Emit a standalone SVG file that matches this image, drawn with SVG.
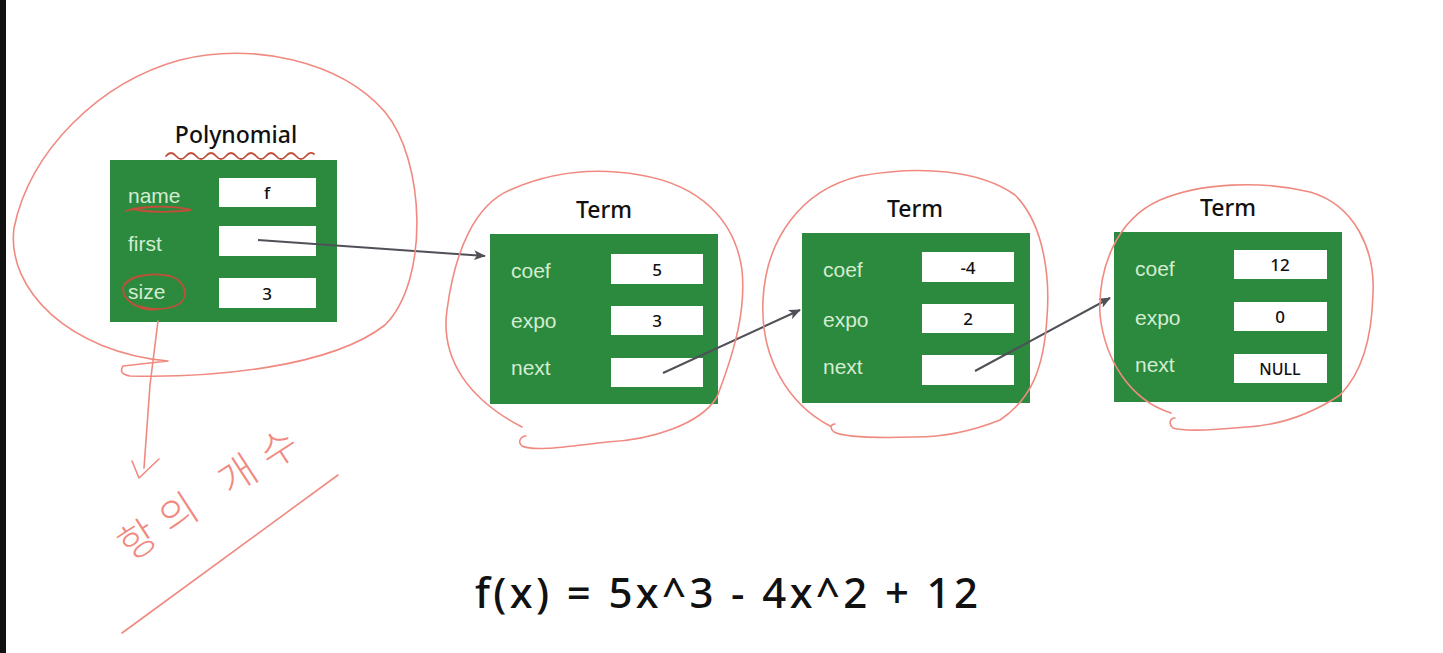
<svg xmlns="http://www.w3.org/2000/svg" width="1443" height="653" viewBox="0 0 1443 653">
<defs>
<style>
.box{fill:#2b8a3e}
.fld{fill:#ffffff}
.lbl{font-family:"Liberation Sans",Arial,sans-serif;font-size:21px;fill:#d4ecd2}
.val{font-family:"Noto Sans","DejaVu Sans",sans-serif;font-size:17px;font-weight:500;fill:#111;text-anchor:middle}
.ttl{font-family:"Noto Sans","DejaVu Sans",sans-serif;font-size:23px;font-weight:500;fill:#111;text-anchor:middle}
.conn{stroke:#505058;stroke-width:2;fill:none}
.pen{stroke:#f08a80;stroke-width:1.6;fill:none;stroke-linecap:round;stroke-linejoin:round}
.pen2{stroke:#c0503a;stroke-width:1.8;fill:none;stroke-linecap:round}
.formula{font-family:"Noto Sans","DejaVu Sans",sans-serif;font-size:42px;font-weight:500;fill:#111}
</style>
<marker id="ah" viewBox="0 0 12 10" refX="11" refY="5" markerWidth="12" markerHeight="10" markerUnits="userSpaceOnUse" orient="auto">
<path d="M0,0 L12,5 L0,10 L3,5 Z" fill="#505058"/>
</marker>
</defs>
<rect x="0" y="0" width="1443" height="653" fill="#ffffff"/>
<rect x="0" y="0" width="6" height="653" fill="#111"/>

<g id="polynomial">
<text class="ttl" x="236" y="143">Polynomial</text>
<rect class="box" x="110" y="160" width="227" height="162"/>
<text class="lbl" x="128" y="203">name</text>
<text class="lbl" x="128" y="251">first</text>
<text class="lbl" x="128" y="299">size</text>
<rect class="fld" x="219" y="178" width="97" height="29"/>
<rect class="fld" x="219" y="226" width="97" height="30"/>
<rect class="fld" x="219" y="278" width="97" height="30"/>
<text class="val" x="267" y="199">f</text>
<text class="val" x="267" y="300">3</text>
</g>

<g id="term1">
<text class="ttl" x="604" y="218">Term</text>
<rect class="box" x="490" y="234" width="228" height="170"/>
<text class="lbl" x="511" y="278">coef</text>
<text class="lbl" x="511" y="328">expo</text>
<text class="lbl" x="511" y="375">next</text>
<rect class="fld" x="611" y="254" width="92" height="30"/>
<rect class="fld" x="611" y="306" width="92" height="29"/>
<rect class="fld" x="611" y="358" width="92" height="29"/>
<text class="val" x="657" y="276">5</text>
<text class="val" x="657" y="327">3</text>
</g>

<g id="term2">
<text class="ttl" x="915" y="217">Term</text>
<rect class="box" x="802" y="233" width="228" height="170"/>
<text class="lbl" x="823" y="277">coef</text>
<text class="lbl" x="823" y="327">expo</text>
<text class="lbl" x="823" y="374">next</text>
<rect class="fld" x="922" y="252" width="92" height="30"/>
<rect class="fld" x="922" y="304" width="92" height="29"/>
<rect class="fld" x="922" y="355" width="92" height="30"/>
<text class="val" x="968" y="274">-4</text>
<text class="val" x="968" y="325">2</text>
</g>

<g id="term3">
<text class="ttl" x="1228" y="216">Term</text>
<rect class="box" x="1114" y="232" width="228" height="170"/>
<text class="lbl" x="1135" y="276">coef</text>
<text class="lbl" x="1135" y="325">expo</text>
<text class="lbl" x="1135" y="372">next</text>
<rect class="fld" x="1234" y="250" width="93" height="29"/>
<rect class="fld" x="1234" y="302" width="93" height="29"/>
<rect class="fld" x="1234" y="354" width="93" height="29"/>
<text class="val" x="1280" y="271">12</text>
<text class="val" x="1280" y="323">0</text>
<text class="val" x="1280" y="375" style="font-size:16px">NULL</text>
</g>

<g id="connectors">
<path class="conn" d="M258,240 L485,256" marker-end="url(#ah)"/>
<path class="conn" d="M663,373 L800,310" marker-end="url(#ah)"/>
<path class="conn" d="M975,371 L1110,298" marker-end="url(#ah)"/>
</g>

<g id="annotations">
<path class="pen" d="M168,361 L123,366 Q118,374 130,376 C210,378 330,368 385,325 C430,280 425,160 385,112 C340,60 250,42 180,60 C100,82 30,150 14,228 C6,290 70,352 168,361"/>
<path class="pen2" d="M166,156 q5,-6 10,0 q5,6 10,0 q5,-6 10,0 q5,6 10,0 q5,-6 10,0 q5,6 10,0 q5,-6 10,0 q5,6 10,0 q5,-6 10,0 q5,6 10,0 q5,-6 10,0 q5,6 10,0 q5,-6 10,0 q5,6 10,0 q4,-5 8,-2"/>
<path class="pen2" d="M126,211 C140,206 170,205 191,210 C170,213 145,212 132,209"/>
<path class="pen2" d="M158,309 C140,312 122,300 123,288 C126,276 150,272 170,276 C188,282 190,300 175,306 C165,310 150,310 140,306"/>
<path class="pen" d="M158,321 L150,385 L144,468"/>
<path class="pen" d="M132,461 L139,478 L159,459"/>
<text x="130" y="562" transform="rotate(-33 130 562)" textLength="205" lengthAdjust="spacing" style="font-family:'Noto Sans CJK KR','Noto Sans',sans-serif;font-size:40px;font-weight:300;fill:#f08a80">항의 개수</text>
<path class="pen" d="M338,475 L122,633"/>
<path class="pen" d="M522,427 C470,400 440,360 447,310 C455,250 475,205 510,190 C555,170 600,168 640,175 C700,185 735,220 742,270 C746,310 735,350 717,397 C700,425 650,440 607,442 C570,446 535,452 522,446 C517,442 521,436 526,436"/>
<path class="pen" d="M830,426 C790,405 760,360 763,300 C766,240 800,190 860,176 C920,165 980,170 1015,195 C1045,225 1050,280 1047,317 C1044,370 1030,400 1000,420 C970,432 940,437 915,437 C880,438 845,438 834,432 C829,428 831,424 835,424"/>
<path class="pen" d="M1171,413 C1130,400 1105,360 1100,315 C1098,270 1115,220 1160,200 C1200,183 1260,180 1310,192 C1355,205 1375,250 1373,293 C1372,340 1360,375 1340,395 C1310,415 1280,425 1247,427 C1215,430 1185,432 1173,428 C1168,424 1170,418 1175,418"/>
</g>

<text class="formula" x="475" y="608" textLength="503" lengthAdjust="spacing">f(x) = 5x^3 - 4x^2 + 12</text>
</svg>
